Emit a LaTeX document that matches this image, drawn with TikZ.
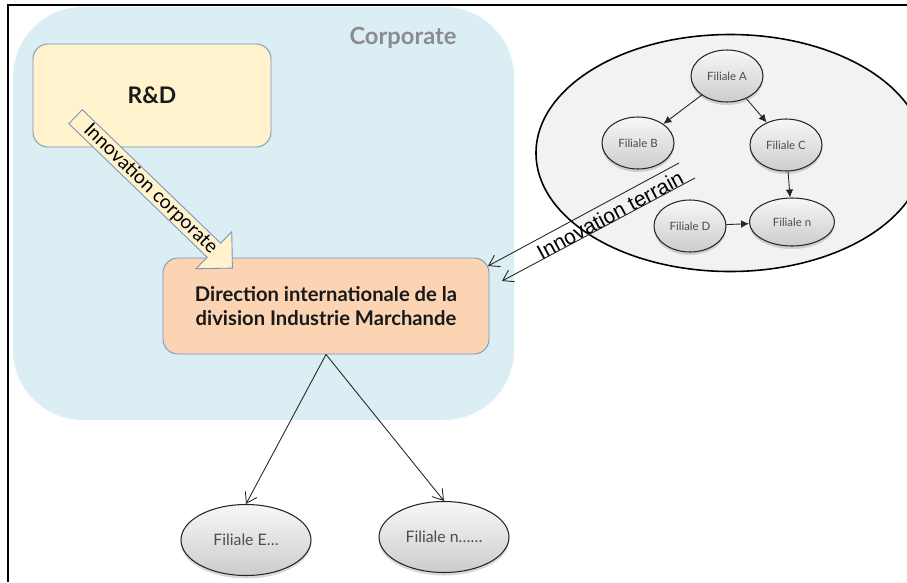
\documentclass[tikz,border=0pt]{standalone}
\usepackage{fontspec}
\setmainfont{Lato}
\newfontfamily\arialfont{Liberation Sans}
\usetikzlibrary{positioning,shapes.geometric,shapes.arrows,shadows,arrows.meta}

\definecolor{corpblue}{HTML}{DAEEF3}
\definecolor{rdyellow}{HTML}{FFF2CC}
\definecolor{dirorange}{HTML}{FBD4B4}
\definecolor{boxedge}{HTML}{7A95B8}
\definecolor{labelgray}{HTML}{8C8C8C}
\definecolor{terrainfill}{HTML}{F2F2F2}

\begin{document}
\begin{tikzpicture}[x=0.2mm, y=-0.2mm, node distance=20.4mm,
	box/.style = {draw=boxedge, line width=0.5pt, rounded corners=3mm, align=center, text=black!90, font=\bfseries},
	filiale/.style = {ellipse, draw=black!85, line width=0.6pt, top color=gray!6, bottom color=gray!40,
		minimum width=14.4mm, minimum height=10.4mm, inner sep=0pt, text=black!70,
		font=\fontsize{6.5}{7}\selectfont, drop shadow={opacity=0.3, shadow xshift=0pt, shadow yshift=-0.6mm}},
	bigfiliale/.style = {filiale, minimum width=26mm, minimum height=14.2mm, font=\fontsize{9}{10}\selectfont},
	link/.style = {-{Latex[length=1.6mm, width=1.5mm]}, line width=0.5pt, black!85},
	feed/.style = {-{Straight Barb[length=2mm, width=2.6mm]}, line width=0.5pt, black!85},
	corparrow/.style = {single arrow, draw=boxedge, fill=rdyellow, line width=0.5pt,
		minimum height=43.6mm, single arrow head extend=3.2mm, single arrow tip angle=90,
		inner xsep=1pt, inner ysep=0.3pt, font=\fontsize{11}{11}\selectfont}]
	\useasboundingbox (0,0) rectangle (907,582);

	% corporate zone
	\node[fill=corpblue, rounded corners=14mm, minimum width=100.2mm, minimum height=82.6mm] (corp) at (263.5,213.5) {};
	\node[text=labelgray, font=\fontsize{13.5}{14}\selectfont\bfseries] (corplbl) at (403,38) {Corporate};
	\node[box, fill=rdyellow, minimum width=47.6mm, minimum height=20.6mm, font=\fontsize{13}{13}\selectfont\bfseries] (rd) at (152,95.5) {R\&D};
	\node[box, fill=dirorange, minimum width=65.2mm, minimum height=19.2mm, font=\fontsize{11.5}{14}\selectfont\bfseries] (dir) at (326,306) {Direction internationale de la\\division Industrie Marchande};
	\node[corparrow, rotate=-44] (innocorp) at (150.5,189) {Innovation corporate};

	% terrain
	\node[ellipse, draw, fill=terrainfill, line width=0.9pt, minimum width=77.6mm, minimum height=47.4mm, inner sep=0pt] (terrain) at (730,153) {};
	\node[filiale] (A) at (727,76) {Filiale A};
	\node[filiale] (B) at (638,143) {Filiale B};
	\node[filiale] (C) at (786,145) {Filiale C};
	\node[filiale] (D) at (690,226) {Filiale D};
	\node[filiale, minimum width=17mm, minimum height=9.6mm] (N) [right=of D.center, anchor=center, yshift=0.8mm] {Filiale n};
	\draw[link] (A) -- (B);
	\draw[link] (A) -- (C);
	\draw[link] (C) -- (N);
	\draw[link] (D) -- (N);

	% innovation terrain
	\coordinate (tA1) at (679,163);
	\coordinate (tA2) at (488,266);
	\coordinate (tB1) at (695,178);
	\coordinate (tB2) at (502,281);
	\draw[feed] (tA1) -- (tA2);
	\draw[feed] (tB1) -- (tB2);
	\node[font=\arialfont\fontsize{12}{12}\selectfont, rotate=28.3, inner sep=0pt] (terrainlbl) at (610,215) {Innovation terrain};

	% filiales hors corporate
	\node[bigfiliale] (E) at (246,540) {Filiale E\ldots};
	\node[bigfiliale] (M) at (444,537) {Filiale n\ldots\ldots};
	\draw[feed] (dir.south) -- (E.north);
	\draw[feed] (dir.south) -- (M.north);

	% frame
	\draw[line width=1.2pt] (8,582) -- (8,5) -- (907,5);
\end{tikzpicture}
\end{document}
